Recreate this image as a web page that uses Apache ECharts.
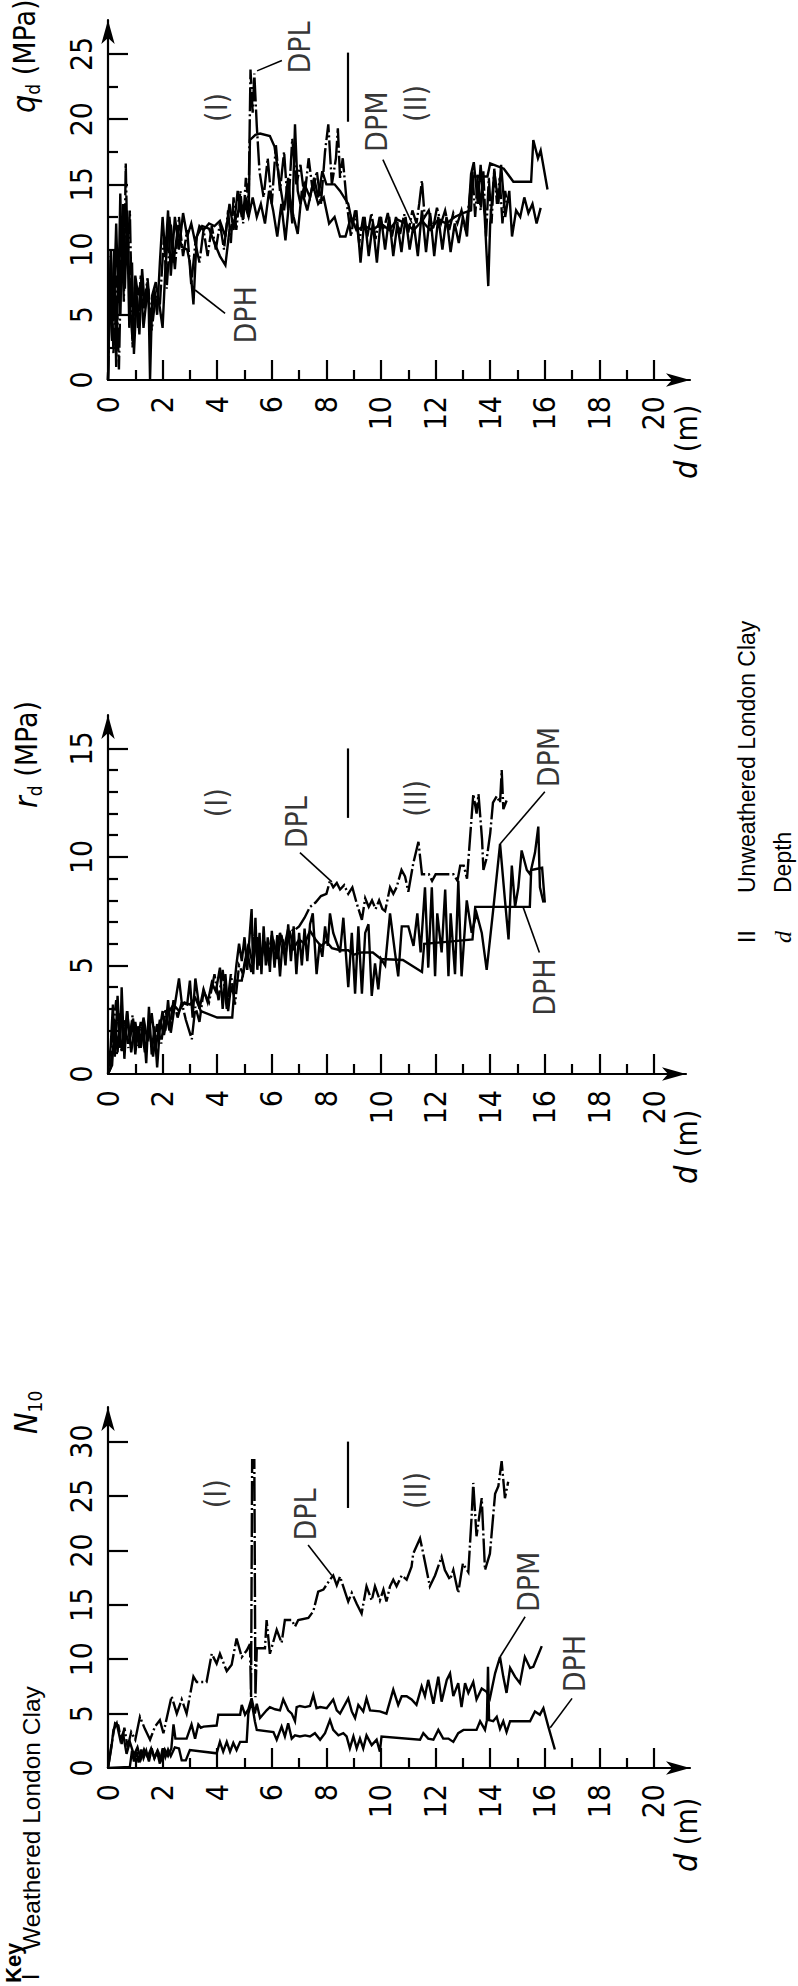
<!DOCTYPE html>
<html>
<head>
<meta charset="utf-8">
<script src="https://cdn.jsdelivr.net/npm/echarts@6/dist/echarts.min.js"></script>
<style>
html, body { margin: 0; padding: 0; background: #fff; }
#chart { width: 798px; height: 1986px; }
</style>
</head>
<body>
<div id="chart"></div>
<script>
// tick values
var depthLabels = [0, 2, 4, 6, 8, 10, 12, 14, 16, 18, 20];
var depthMajor = [2, 4, 6, 8, 10, 12, 14, 16, 18, 20];
var depthMinor = [1, 3, 5, 7, 9, 11, 13, 15, 17, 19];
var qdLabels = [0, 5, 10, 15, 20, 25];
var qdMajor = [5, 10, 15, 20, 25];
var qdMinor = [2.5, 7.5, 12.5, 17.5, 22.5];
var rdLabels = [0, 5, 10, 15];
var rdMajor = [5, 10, 15];
var rdMinor = [1, 2, 3, 4, 6, 7, 8, 9, 11, 12, 13, 14];
var nLabels = [0, 5, 10, 15, 20, 25, 30];
var nMajor = [5, 10, 15, 20, 25, 30];
var nMinor = [];

// q_d (MPa) vs depth (m)
var qdDpl = [[0,0],[0.1,9.5],[0.2,2.0],[0.3,8.0],[0.4,0.8],[0.5,11.2],[0.58,6.0],[0.65,16.6],[0.72,9.0],[0.8,13.0],[0.9,2.5],[1.0,7.5],[1.1,4.0],[1.2,8.0],[1.3,5.5],[1.45,7.8],[1.6,3.8],[1.75,6.5],[1.9,5.8],[2.05,11.0],[2.15,7.0],[2.3,12.0],[2.45,8.5],[2.6,12.5],[2.75,9.5],[2.9,11.5],[3.05,7.3],[3.2,10.5],[3.35,9.0],[3.5,11.5],[3.65,9.5],[3.8,11.8],[3.95,10.0],[4.1,12.0],[4.25,10.0],[4.4,13.0],[4.5,10.5],[4.6,14.0],[4.7,11.5],[4.85,14.5],[4.95,12.0],[5.05,15.5],[5.15,13.5],[5.22,23.8],[5.3,20.5],[5.36,23.5],[5.45,19.5],[5.55,16.0],[5.7,14.0],[5.85,17.0],[6.0,13.5],[6.15,18.0],[6.3,14.5],[6.45,17.5],[6.6,13.0],[6.75,18.5],[6.9,15.0],[7.05,16.5],[7.2,14.0],[7.35,17.0],[7.5,14.5],[7.65,16.0],[7.8,13.5],[7.95,17.5],[8.07,19.6],[8.2,15.0],[8.35,17.0],[8.42,19.3],[8.5,15.5],[8.6,17.0],[8.75,13.5],[8.9,11.0],[9.05,13.0],[9.2,10.5],[9.35,12.5],[9.5,11.0],[9.65,12.8],[9.8,10.8],[9.95,12.5],[10.1,11.5],[10.25,12.8],[10.4,11.0],[10.55,12.5],[10.7,11.2],[10.85,12.7],[11.0,11.3],[11.15,13.0],[11.3,12.0],[11.4,13.5],[11.5,15.3],[11.6,12.5],[11.75,13.0],[11.9,11.5],[12.05,13.2],[12.2,12.0],[12.35,13.0],[12.5,11.5],[12.65,12.8],[12.8,12.0],[12.95,13.0],[13.1,11.5],[13.25,14.0],[13.35,16.0],[13.45,12.5],[13.55,15.8],[13.65,13.0],[13.75,16.0],[13.85,11.0],[13.95,15.5],[14.05,12.0],[14.15,16.2],[14.25,13.5],[14.35,15.5],[14.45,12.0],[14.55,14.5],[14.62,13.5]];
var qdDpm = [[0,0],[0.08,8.0],[0.15,3.0],[0.22,10.0],[0.3,1.0],[0.38,9.5],[0.45,5.0],[0.55,13.5],[0.62,7.0],[0.7,12.5],[0.78,4.0],[0.88,9.0],[0.95,2.0],[1.05,6.5],[1.15,3.5],[1.25,8.5],[1.35,5.5],[1.45,7.5],[1.55,4.0],[1.7,7.0],[1.8,5.0],[1.9,9.0],[2.0,12.5],[2.1,9.5],[2.2,13.0],[2.3,8.0],[2.45,12.5],[2.6,10.0],[2.75,12.8],[2.9,11.0],[3.05,12.0],[3.2,10.5],[3.35,11.8],[3.5,11.5],[3.7,12.0],[3.9,11.8],[4.1,12.2],[4.3,11.0],[4.45,13.5],[4.6,11.5],[4.75,14.5],[4.9,12.5],[5.05,14.0],[5.15,12.5],[5.2,18.4],[5.4,18.8],[5.57,18.9],[5.93,18.7],[6.1,17.9],[6.3,15.0],[6.45,13.0],[6.6,15.5],[6.75,12.0],[6.85,19.6],[6.95,14.5],[7.05,13.5],[7.2,15.0],[7.4,14.0],[7.55,15.5],[7.7,14.0],[7.85,16.0],[8.0,15.0],[8.3,15.0],[8.5,14.5],[8.8,13.5],[8.95,12.0],[9.1,13.0],[9.25,9.0],[9.4,12.5],[9.55,9.5],[9.7,12.0],[9.85,9.0],[10.0,12.5],[10.15,10.0],[10.3,12.5],[10.45,9.5],[10.6,12.0],[10.75,9.8],[10.9,12.5],[11.05,10.0],[11.2,12.0],[11.35,9.5],[11.5,13.0],[11.65,9.8],[11.8,12.8],[11.95,9.5],[12.1,12.5],[12.25,10.0],[12.4,12.5],[12.55,9.8],[12.7,12.0],[12.85,10.5],[13.0,12.5],[13.15,11.0],[13.3,15.8],[13.4,16.7],[13.55,13.5],[13.65,16.5],[13.8,12.5],[13.93,7.2],[14.0,12.0],[14.15,16.0],[14.3,13.5],[14.4,16.5],[14.55,12.5],[14.7,14.5],[14.8,11.0],[14.95,13.0],[15.1,12.5],[15.25,14.0],[15.4,12.8],[15.55,13.5],[15.7,12.0],[15.85,13.2]];
var qdDph = [[0,0],[0.1,10.0],[0.2,4.5],[0.3,12.0],[0.38,6.0],[0.45,14.3],[0.52,7.5],[0.6,11.0],[0.7,13.0],[0.8,6.0],[0.9,3.0],[1.0,8.0],[1.1,6.5],[1.2,7.5],[1.3,4.0],[1.4,6.0],[1.48,7.0],[1.54,0.0],[1.62,6.5],[1.75,7.5],[1.9,5.5],[2.0,4.0],[2.1,8.5],[2.25,12.5],[2.4,9.0],[2.55,11.5],[2.7,10.2],[2.9,10.0],[3.0,9.0],[3.13,5.8],[3.25,11.0],[3.45,11.8],[3.7,11.6],[3.9,10.5],[4.1,9.5],[4.3,8.8],[4.45,11.5],[4.6,12.0],[4.8,13.0],[5.0,13.5],[5.15,12.5],[5.3,14.0],[5.45,12.5],[5.6,13.5],[5.75,12.0],[5.9,14.5],[6.05,13.0],[6.2,11.0],[6.35,13.5],[6.5,10.7],[6.65,14.0],[6.8,12.5],[6.95,11.2],[7.1,14.5],[7.3,13.0],[7.5,15.0],[7.7,13.5],[7.9,14.0],[8.1,12.0],[8.3,12.5],[8.5,11.0],[8.7,11.0],[8.9,12.5],[9.1,11.5],[9.4,11.8],[9.7,11.5],[10.0,12.0],[10.3,11.5],[10.6,12.3],[10.9,12.0],[11.2,11.5],[11.5,12.2],[11.8,11.5],[12.1,12.3],[12.4,12.0],[12.7,12.5],[13.0,12.8],[13.3,13.0],[13.35,15.6],[13.9,15.6],[14.0,16.6],[14.5,16.2],[14.85,15.2],[15.5,15.2],[15.58,18.4],[15.75,17.0],[15.85,17.6],[16.1,14.6]];

// r_d (MPa) vs depth (m)
var rdDpl = [[0,0],[0.1,0.3],[0.2,2.2],[0.3,3.4],[0.4,2.0],[0.5,1.0],[0.6,2.5],[0.75,1.2],[0.9,2.7],[1.05,1.3],[1.2,2.4],[1.35,1.0],[1.5,2.1],[1.65,0.8],[1.8,2.3],[1.95,1.4],[2.1,3.0],[2.25,2.0],[2.4,3.4],[2.55,2.6],[2.7,3.3],[2.85,2.5],[3.07,1.6],[3.2,3.1],[3.35,2.4],[3.5,3.8],[3.7,3.3],[3.9,4.6],[4.05,3.4],[4.2,4.8],[4.35,3.0],[4.5,4.6],[4.65,3.2],[4.8,5.0],[4.95,4.6],[5.1,5.6],[5.25,4.7],[5.4,6.2],[5.55,5.0],[5.7,6.0],[5.85,5.3],[6.0,6.4],[6.15,5.5],[6.3,6.5],[6.45,5.8],[6.6,6.7],[6.8,6.6],[7.0,6.8],[7.2,7.2],[7.4,7.7],[7.6,7.9],[7.8,8.2],[8.0,8.3],[8.13,8.9],[8.25,8.6],[8.38,8.8],[8.5,8.5],[8.65,8.7],[8.8,8.3],[8.95,8.6],[9.1,7.9],[9.3,7.1],[9.42,8.1],[9.55,7.7],[9.67,8.0],[9.8,7.6],[9.93,8.0],[10.05,7.6],[10.15,7.5],[10.33,8.6],[10.45,8.3],[10.57,8.6],[10.75,9.4],[10.88,9.1],[11.0,8.4],[11.18,9.7],[11.37,10.7],[11.5,9.2],[11.75,9.2],[11.87,8.9],[12.0,9.2],[12.65,9.2],[12.8,8.9],[12.9,9.6],[13.03,9.6],[13.15,9.0],[13.38,12.9],[13.5,12.0],[13.57,12.9],[13.7,10.8],[13.75,9.4],[13.88,10.0],[14.0,11.1],[14.1,12.5],[14.24,12.8],[14.36,12.5],[14.42,14.0],[14.48,12.2],[14.6,12.6]];
var rdDpm = [[0,0],[0.1,1.3],[0.18,3.2],[0.25,0.8],[0.35,3.6],[0.45,1.2],[0.5,4.0],[0.6,0.7],[0.7,2.9],[0.8,1.5],[0.9,2.5],[1.0,0.9],[1.1,2.2],[1.2,1.2],[1.3,2.3],[1.4,0.5],[1.5,3.1],[1.6,0.9],[1.7,2.2],[1.8,0.3],[1.9,2.1],[2.0,2.9],[2.1,2.0],[2.2,3.4],[2.3,1.9],[2.45,3.2],[2.6,4.4],[2.7,3.3],[2.9,3.2],[3.0,4.3],[3.1,2.6],[3.2,4.4],[3.35,3.0],[3.5,3.9],[3.65,3.3],[3.8,4.2],[3.95,3.8],[4.1,4.9],[4.2,3.0],[4.3,4.6],[4.4,2.9],[4.5,4.0],[4.6,3.7],[4.7,5.0],[4.8,6.0],[4.9,5.2],[5.0,6.3],[5.1,4.8],[5.2,6.6],[5.26,7.6],[5.32,4.6],[5.4,7.2],[5.47,4.8],[5.55,6.5],[5.62,4.6],[5.7,6.8],[5.78,5.0],[5.85,6.3],[5.93,4.7],[6.0,6.6],[6.1,4.9],[6.2,6.4],[6.3,4.5],[6.4,6.2],[6.5,5.0],[6.6,6.9],[6.7,5.2],[6.8,6.8],[6.9,4.6],[7.0,6.5],[7.1,5.0],[7.2,6.7],[7.3,5.2],[7.4,6.9],[7.5,7.4],[7.64,4.6],[7.75,6.0],[7.85,5.4],[7.95,6.8],[8.05,5.9],[8.13,7.4],[8.25,6.5],[8.5,5.6],[8.62,7.2],[8.8,4.0],[8.93,6.5],[9.05,3.7],[9.17,6.8],[9.3,3.7],[9.42,6.5],[9.54,6.9],[9.66,3.6],[9.78,5.1],[9.9,3.9],[10.0,5.3],[10.15,5.0],[10.33,7.4],[10.51,5.6],[10.63,4.5],[10.76,6.8],[11.0,6.8],[11.19,5.9],[11.33,7.4],[11.45,5.6],[11.61,8.6],[11.73,4.9],[11.86,8.6],[11.98,4.5],[12.06,7.4],[12.22,5.6],[12.35,8.5],[12.47,4.5],[12.55,7.4],[12.71,4.6],[12.83,8.9],[12.95,4.5],[13.14,8.0],[13.32,6.5],[13.5,7.4],[13.69,6.5],[13.87,4.8],[14.12,7.7],[14.36,10.6],[14.54,8.0],[14.67,6.2],[14.79,9.6],[14.91,7.7],[15.03,8.6],[15.15,10.3],[15.34,9.4],[15.46,9.2],[15.64,10.2],[15.76,11.4],[15.82,8.6],[15.95,7.9]];
var rdDph = [[0,0],[0.15,0.4],[0.25,2.5],[0.35,1.0],[0.45,2.8],[0.6,1.5],[0.7,2.9],[0.85,1.0],[1.0,2.4],[1.15,1.2],[1.3,2.6],[1.45,1.5],[1.6,2.8],[1.75,1.2],[1.9,2.5],[2.05,1.8],[2.2,2.8],[2.4,3.2],[2.6,2.9],[2.8,3.3],[3.0,3.2],[3.2,3.5],[3.4,2.9],[4.0,2.6],[4.55,2.6],[4.65,4.3],[4.9,4.3],[5.0,5.1],[5.15,6.0],[5.3,5.0],[5.45,6.3],[5.6,5.2],[5.75,6.1],[5.9,5.0],[6.05,6.2],[6.2,5.3],[6.35,6.4],[6.5,5.5],[6.65,6.6],[6.8,5.8],[7.0,6.2],[7.2,6.0],[7.4,6.6],[7.6,6.2],[7.8,5.9],[8.0,6.1],[8.2,5.8],[8.5,5.7],[8.8,5.7],[9.0,5.5],[9.3,5.6],[9.7,5.6],[10.0,5.3],[10.8,5.25],[11.5,4.7],[11.58,6.0],[12.5,6.1],[13.35,6.2],[13.45,7.7],[15.45,7.7],[15.5,9.4],[15.9,9.5],[16.0,7.9]];

// N10 vs depth (m)
var n10Dpl = [[0,0],[0.12,2.0],[0.26,4.1],[0.38,3.9],[0.5,2.2],[0.6,3.7],[0.72,1.9],[0.85,3.3],[1.0,2.6],[1.17,4.7],[1.35,3.6],[1.54,2.6],[1.72,3.8],[1.9,4.4],[2.03,3.2],[2.33,6.6],[2.52,5.0],[2.7,6.3],[2.88,5.0],[3.13,8.4],[3.25,7.9],[3.61,7.9],[3.8,10.5],[3.98,9.6],[4.1,10.5],[4.35,8.9],[4.53,9.5],[4.71,11.9],[4.9,10.2],[5.08,10.8],[5.2,11.4],[5.24,6.5],[5.28,28.3],[5.36,28.3],[5.4,6.5],[5.45,11.0],[5.75,11.0],[5.81,13.6],[5.93,10.5],[6.18,12.7],[6.36,11.5],[6.48,13.6],[6.73,13.6],[6.85,13.0],[6.97,13.6],[7.34,13.8],[7.52,14.4],[7.7,16.2],[7.89,16.4],[8.13,17.3],[8.25,17.7],[8.38,16.8],[8.5,17.6],[8.8,15.3],[8.93,16.1],[9.11,15.1],[9.29,14.2],[9.47,16.7],[9.66,15.4],[9.78,16.7],[9.96,15.4],[10.09,16.4],[10.2,15.3],[10.33,16.7],[10.45,17.3],[10.57,16.7],[10.76,17.7],[10.94,17.3],[11.12,18.5],[11.18,19.7],[11.43,21.1],[11.55,19.7],[11.79,16.7],[11.98,17.7],[12.22,19.4],[12.34,18.2],[12.53,17.3],[12.65,18.2],[12.83,16.1],[13.0,18.8],[13.2,18.0],[13.32,23.1],[13.38,26.2],[13.5,21.3],[13.69,24.8],[13.81,18.2],[13.99,19.7],[14.18,25.2],[14.3,25.9],[14.42,28.2],[14.54,24.8],[14.66,26.3]];
var n10Dpm = [[0,0],[0.13,2.0],[0.2,3.5],[0.32,4.1],[0.45,2.6],[0.55,3.2],[0.68,1.3],[0.8,2.4],[0.95,1.2],[1.08,1.9],[1.2,0.8],[1.32,1.7],[1.45,1.0],[1.58,1.8],[1.7,0.9],[1.82,1.6],[1.95,0.8],[2.08,1.7],[2.2,1.1],[2.32,1.8],[2.4,4.0],[2.47,2.7],[2.88,2.7],[3.06,4.0],[3.19,2.7],[3.31,4.0],[3.4,3.7],[3.5,3.8],[3.98,3.9],[4.04,4.9],[4.84,4.9],[4.9,5.8],[5.02,4.9],[5.14,5.4],[5.26,6.4],[5.38,5.0],[5.45,5.9],[5.57,4.6],[5.81,5.3],[5.93,5.6],[6.12,5.4],[6.3,5.3],[6.42,6.3],[6.6,5.3],[6.73,5.0],[6.85,4.3],[6.91,5.6],[7.03,5.7],[7.22,5.6],[7.4,5.7],[7.52,6.7],[7.64,5.5],[7.77,5.6],[8.01,5.5],[8.25,6.3],[8.38,5.3],[8.5,5.0],[8.8,6.4],[8.93,5.2],[9.05,4.6],[9.17,5.8],[9.35,5.2],[9.47,6.4],[9.6,5.3],[9.96,5.2],[10.2,5.0],[10.45,7.2],[10.63,5.8],[10.76,6.6],[10.94,6.6],[11.12,6.3],[11.3,5.8],[11.49,7.5],[11.61,6.6],[11.73,8.1],[11.92,5.9],[12.1,8.4],[12.22,6.1],[12.41,8.1],[12.53,8.7],[12.65,6.6],[12.83,7.8],[12.95,5.6],[13.08,7.8],[13.2,6.9],[13.38,7.9],[13.5,6.3],[13.69,7.3],[13.87,7.0],[13.99,6.4],[14.18,8.7],[14.36,10.2],[14.48,8.4],[14.6,6.9],[14.73,9.2],[14.91,8.4],[15.09,7.8],[15.27,10.2],[15.46,9.2],[15.58,9.3],[15.89,11.2]];
var n10Dph = [[0,0],[0.8,0.1],[0.88,1.6],[0.95,0.6],[1.05,1.5],[1.12,0.5],[1.22,1.7],[1.3,0.9],[1.4,1.6],[1.5,0.6],[1.6,1.8],[1.7,0.9],[1.8,1.5],[1.9,0.4],[2.0,1.8],[2.1,1.0],[2.2,1.7],[2.3,1.1],[2.45,1.9],[2.6,1.8],[2.7,0.7],[2.85,0.7],[3.0,1.65],[3.98,1.35],[4.1,2.4],[4.22,1.5],[4.35,2.4],[4.47,1.5],[4.59,2.3],[4.71,1.65],[4.84,2.4],[5.08,2.4],[5.14,5.0],[5.26,6.1],[5.38,4.3],[5.45,3.5],[6.06,3.3],[6.18,2.6],[6.36,3.8],[6.48,2.9],[6.6,4.1],[6.73,2.7],[6.85,3.0],[7.03,2.9],[7.22,3.0],[7.4,2.9],[7.58,3.2],[7.77,2.6],[7.95,3.2],[8.13,4.4],[8.25,3.5],[8.44,3.0],[8.62,3.2],[8.74,2.9],[8.86,1.8],[8.99,2.9],[9.11,1.8],[9.23,2.7],[9.35,1.8],[9.47,3.0],[9.66,2.1],[9.84,2.6],[9.96,1.5],[10.02,2.9],[11.43,2.6],[11.55,3.2],[11.73,2.7],[11.92,2.6],[12.1,3.5],[12.28,2.7],[12.47,2.7],[12.65,2.4],[12.83,3.2],[13.02,3.5],[13.5,3.5],[13.63,4.3],[13.81,3.5],[13.88,4.4],[13.92,9.3],[13.96,4.4],[14.11,4.3],[14.24,4.7],[14.36,3.6],[14.48,4.3],[14.6,3.3],[14.73,4.3],[15.46,4.3],[15.64,5.2],[15.82,4.9],[15.95,5.5],[16.13,3.8],[16.37,1.7]];

// annotations in data coordinates
var qdNotes = [{name: '(I)', value: [3.96, 20.9]}, {name: 'DPL', value: [7.03, 25.5]}, {name: 'DPM', value: [9.85, 19.8]}, {name: '(II)', value: [11.25, 21.2]}, {name: 'DPH', value: [5.05, 5.0]}];
var qdLeaders = [[[6.37, 24.5], [5.46, 23.7]], [[10.07, 16.9], [11.14, 12.0]], [[4.29, 5.1], [3.19, 6.9]]];
var qdBoundary = [[8.79, 19.8], [8.79, 25.1]];
var rdNotes = [{name: '(I)', value: [3.96, 12.5]}, {name: 'DPL', value: [6.89, 11.6]}, {name: '(II)', value: [11.25, 12.7]}, {name: 'DPM', value: [16.15, 14.6]}, {name: 'DPH', value: [16.0, 4.0]}];
var rdLeaders = [[[7.03, 10.2], [8.2, 8.85]], [[16.0, 13.0], [14.36, 10.6]], [[15.8, 5.6], [15.2, 7.7]]];
var rdBoundary = [[8.79, 11.8], [8.79, 15.0]];
var n10Notes = [{name: '(I)', value: [3.92, 25.2]}, {name: 'DPL', value: [7.25, 23.3]}, {name: '(II)', value: [11.25, 25.5]}, {name: 'DPM', value: [15.4, 17.1]}, {name: 'DPH', value: [17.1, 9.6]}];
var n10Leaders = [[[7.33, 20.5], [8.2, 17.7]], [[15.28, 13.9], [14.36, 10.2]], [[17.0, 6.4], [16.2, 3.7]]];
var n10Boundary = [[8.79, 23.9], [8.79, 30.0]];

var FONT = '"DejaVu Sans Condensed", "Liberation Sans Narrow", "DejaVu Sans", sans-serif';
var KEYFONT = '"Liberation Sans", Arial, sans-serif';

var panels = [
    {top: 20, height: 360, width: 582, xMax: 21.32, yMax: 27.6, labels: qdLabels, major: qdMajor, minor: qdMinor,
     lines: [qdDpl, qdDpm, qdDph], notes: qdNotes, leaders: qdLeaders, boundary: qdBoundary},
    {top: 715, height: 359, width: 578, xMax: 21.17, yMax: 16.54, labels: rdLabels, major: rdMajor, minor: rdMinor,
     lines: [rdDpl, rdDpm, rdDph], notes: rdNotes, leaders: rdLeaders, boundary: rdBoundary},
    {top: 1407, height: 361, width: 582, xMax: 21.32, yMax: 33.18, labels: nLabels, major: nMajor, minor: nMinor,
     lines: [n10Dpl, n10Dpm, n10Dph], notes: n10Notes, leaders: n10Leaders, boundary: n10Boundary}
];

function mainAxis(gi, max, labels, ticks, isX) {
    return {
        type: 'value', gridIndex: gi, min: 0, max: max, position: isX ? 'bottom' : 'left',
        axisLine: {show: true, onZero: false, symbol: ['none', 'arrow'], symbolSize: [10, 24],
                   lineStyle: {color: '#000', width: 2.2}},
        axisTick: {show: true, inside: true, length: 20, customValues: ticks, lineStyle: {color: '#000', width: 2.2}},
        axisLabel: {show: true, rotate: 90, margin: isX ? 16 : 12, customValues: labels,
                    color: '#000', fontSize: 30, fontFamily: FONT},
        splitLine: {show: false}
    };
}
function minorAxis(gi, max, ticks, isX) {
    return {
        type: 'value', gridIndex: gi, min: 0, max: max, position: isX ? 'bottom' : 'left',
        axisLine: {show: false}, axisLabel: {show: false}, splitLine: {show: false},
        axisTick: {show: ticks.length > 0, inside: true, length: 10, customValues: ticks,
                   lineStyle: {color: '#000', width: 2.2}}
    };
}

var option = {animation: false, grid: [], xAxis: [], yAxis: [], series: [], graphic: []};
var dashes = [[24, 3, 2, 3], 'solid', 'solid'];

panels.forEach(function (p, i) {
    option.grid.push({left: 108, top: p.top, width: p.width, height: p.height, containLabel: false, outerBoundsMode: 'none'});
    var xi = option.xAxis.length, yi = option.yAxis.length;
    option.xAxis.push(mainAxis(i, p.xMax, depthLabels, depthMajor, true), minorAxis(i, p.xMax, depthMinor, true));
    option.yAxis.push(mainAxis(i, p.yMax, p.labels, p.major, false), minorAxis(i, p.yMax, p.minor, false));
    p.lines.forEach(function (d, k) {
        option.series.push({
            type: 'line', xAxisIndex: xi, yAxisIndex: yi, data: d, symbol: 'none', silent: true,
            lineStyle: {color: '#000', width: 2.4, type: dashes[k], join: 'miter'}
        });
    });
    var marks = p.leaders.map(function (l) {
        return [{coord: l[0]}, {coord: l[1]}];
    });
    marks.push([{coord: p.boundary[0], lineStyle: {width: 2.2}}, {coord: p.boundary[1]}]);
    option.series.push({
        type: 'scatter', xAxisIndex: xi, yAxisIndex: yi, data: p.notes, symbolSize: 0, silent: true,
        label: {show: true, position: 'inside', formatter: '{b}', rotate: 90, color: '#000',
                fontSize: 30, fontFamily: FONT},
        markLine: {silent: true, symbol: ['none', 'none'], label: {show: false},
                   lineStyle: {color: '#000', width: 1.6, type: 'solid'}, data: marks}
    });
});

// rotated texts (read bottom to top)
function vtext(x, y, style) {
    return {type: 'text', x: x, y: y, rotation: Math.PI / 2, silent: true,
            style: Object.assign({fill: '#000', align: 'left', verticalAlign: 'middle',
                                  fontSize: 30, fontFamily: FONT}, style)};
}
var subRich = {
    i: {fontSize: 32, fontStyle: 'italic', fontFamily: FONT, lineHeight: 36, verticalAlign: 'middle'},
    s: {fontSize: 19, fontFamily: FONT, lineHeight: 36, verticalAlign: 'bottom'},
    n: {fontSize: 30, fontFamily: FONT, lineHeight: 36, verticalAlign: 'middle'}
};
option.graphic.push(
    vtext(24, 113, {text: '{i|q}{s|d}{n| (MPa)}', rich: subRich}),
    vtext(26, 808, {text: '{i|r}{s|d}{n| (MPa)}', rich: subRich}),
    vtext(26, 1434, {text: '{i|N}{s|10}', rich: subRich}),
    vtext(686, 479, {text: '{i|d}{n| (m)}', rich: subRich}),
    vtext(686, 1184, {text: '{i|d}{n| (m)}', rich: subRich}),
    vtext(686, 1872, {text: '{i|d}{n| (m)}', rich: subRich}),
    vtext(13, 1983, {text: 'Key', fontFamily: KEYFONT, fontWeight: 'bold', fontSize: 22}),
    vtext(31, 1980, {text: 'I', fontFamily: KEYFONT, fontSize: 23}),
    vtext(31, 1950, {text: 'Weathered London Clay', fontFamily: KEYFONT, fontSize: 24.5}),
    vtext(747, 943, {text: 'II', fontFamily: KEYFONT, fontSize: 23}),
    vtext(747, 893, {text: 'Unweathered London Clay', fontFamily: KEYFONT, fontSize: 23}),
    vtext(783, 943, {text: 'd', fontFamily: '"Liberation Serif", serif', fontStyle: 'italic', fontSize: 24}),
    vtext(783, 893, {text: 'Depth', fontFamily: KEYFONT, fontSize: 23})
);

var chart = echarts.init(document.getElementById('chart'), null, {renderer: 'svg'});
chart.setOption(option);
</script>
</body>
</html>
